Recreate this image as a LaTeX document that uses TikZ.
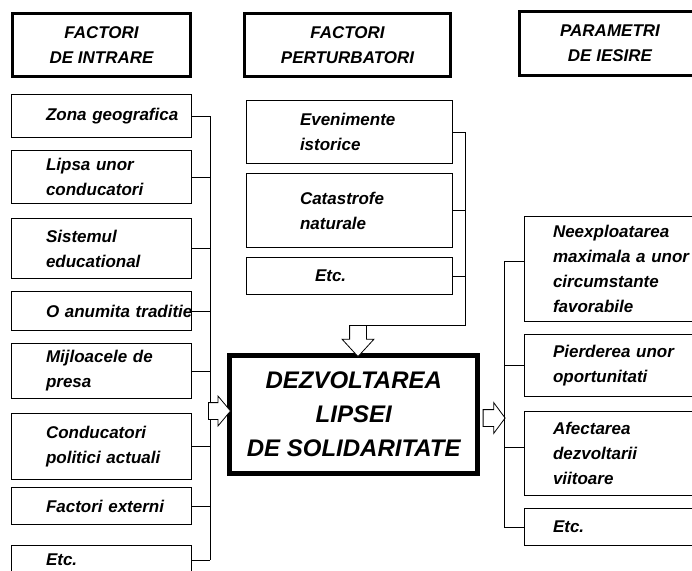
\documentclass[tikz,border=0pt]{standalone}
\usepackage{fontspec}
\setmainfont{Liberation Sans}
\usetikzlibrary{shapes.arrows}

\begin{document}
\begin{tikzpicture}[x=1pt,y=-1pt,
  every node/.style={font=\fontsize{17}{25}\selectfont\bfseries\itshape},
  head/.style={draw,line width=3pt,minimum height=63pt,align=center,inner sep=0pt},
  lbox/.style={draw,line width=.9pt,text width=111pt,inner xsep=34.5pt,inner ysep=2pt,align=left,
    execute at begin node={\hyphenpenalty=10000}},
  mbox/.style={draw,line width=.9pt,text width=99pt,inner xsep=53.5pt,inner ysep=2pt,align=left},
  rbox/.style={draw,line width=.9pt,text width=150pt,inner xsep=28.5pt,inner ysep=2pt,align=left},
  core/.style={draw,line width=5pt,minimum width=248pt,minimum height=118pt,align=center,
    font=\fontsize{24}{34}\selectfont\bfseries\itshape},
  fat/.style={single arrow,draw,fill=white,line width=.8pt,inner xsep=0pt,inner ysep=8pt,
    single arrow head extend=6.5pt,single arrow tip angle=100,minimum height=22pt},
  link/.style={line width=.9pt}]
   \useasboundingbox (0,0) rectangle (692,570);
   \coordinate (lbus) at (210,0);
   \coordinate (mbus) at (465,0);
   \coordinate (rbus) at (504,0);

   \node[head,minimum width=178pt] (hin) at (101.5,45) {FACTORI\\DE INTRARE};
   \node[head,minimum width=206pt] (hper) at (347.5,45) {FACTORI\\PERTURBATORI};
   \node[head,minimum width=181pt,minimum height=64pt] (hout) at (610,43.5) {PARAMETRI\\DE IESIRE};

   \node[lbox,minimum height=43pt] (i1) at (101.5,116) {Zona~geografica};
   \node[lbox,minimum height=53pt] (i2) at (101.5,177) {Lipsa unor\\conducatori};
   \node[lbox,minimum height=60pt] (i3) at (101.5,248.5) {Sistemul\\educational};
   \node[lbox,minimum height=39pt] (i4) at (101.5,311) {O~anumita~traditie};
   \node[lbox,minimum height=55pt] (i5) at (101.5,371) {Mijloacele~de\\presa};
   \node[lbox,minimum height=66pt] (i6) at (101.5,446.5) {Conducatori\\politici~actuali};
   \node[lbox,minimum height=37pt] (i7) at (101.5,506) {Factori~externi};
   \node[lbox,minimum height=30pt] (i8) at (101.5,560) {Etc.};

   \node[mbox,minimum height=63pt] (m1) at (349.5,132) {Evenimente\\istorice};
   \node[mbox,minimum height=74pt] (m2) at (349.5,210.5) {Catastrofe\\naturale};
   \node[mbox,minimum height=37pt] (m3) at (349.5,276) {\hspace*{15pt}Etc.};

   \node[rbox,minimum height=105pt] (r1) at (628,269) {Neexploatarea\\maximala a unor\\circumstante\\favorabile};
   \node[rbox,minimum height=62pt] (r2) at (628,365.5) {Pierderea unor\\oportunitati};
   \node[rbox,minimum height=84pt] (r3) at (628,453.5) {Afectarea\\dezvoltarii\\viitoare};
   \node[rbox,minimum height=37pt] (r4) at (628,527) {Etc.};

   \node[core] (core) at (353.75,414.5) {DEZVOLTAREA\\LIPSEI\\DE SOLIDARITATE};

   \draw[link] (i1.east) -- (i1.east -| lbus) (i2.east) -- (i2.east -| lbus)
     (i3.east) -- (i3.east -| lbus) (i4.east) -- (i4.east -| lbus)
     (i5.east) -- (i5.east -| lbus) (i6.east) -- (i6.east -| lbus)
     (i7.east) -- (i7.east -| lbus) (i8.east) -- (i8.east -| lbus);
   \draw[link] (i1.east -| lbus) -- (i8.east -| lbus);
   \node[fat] (ain) at (216,411) {};

   \node[fat,rotate=-90,minimum height=31pt,single arrow head extend=7.5pt,
     single arrow tip angle=85] (aper) at (358,336.5) {};
   \draw[link] (m1.east) -- (m1.east -| mbus) (m2.east) -- (m2.east -| mbus)
     (m3.east) -- (m3.east -| mbus);
   \draw[link] (m1.east -| mbus) |- (aper.tail);

   \node[fat,single arrow head extend=7pt,single arrow tip angle=107] (aout) at (491,418) {};
   \draw[link] ([yshift=8pt]r1.west) -- ([yshift=8pt]r1.west -| rbus) -- (r4.west -| rbus) -- (r4.west);
   \draw[link] (r2.west) -- (r2.west -| rbus) ([yshift=6.5pt]r3.west) -- ([yshift=6.5pt]r3.west -| rbus);
  \end{tikzpicture}
\end{document}
